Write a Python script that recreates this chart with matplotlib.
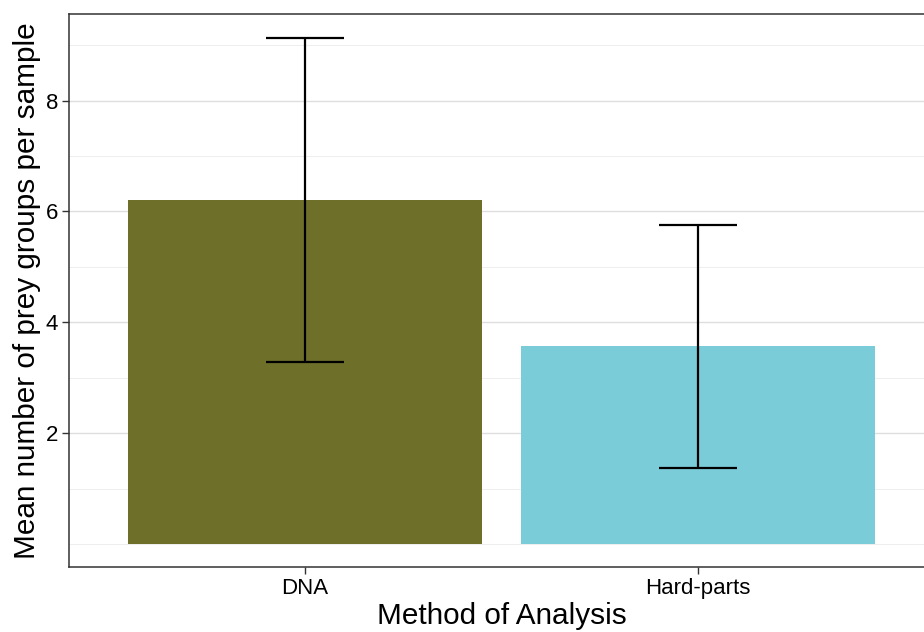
import matplotlib
matplotlib.use("Agg")
import matplotlib.pyplot as plt
import numpy as np

methods = ["DNA", "Hard-parts"]
means = [6.20, 3.57]
errors = [2.92, 2.19]
colors = ["#6E7029", "#7ACCD8"]
major_ticks = [2, 4, 6, 8]
minor_grid = [0, 1, 3, 5, 7, 9]

plt.rcParams['font.family'] = ['Liberation Sans', 'DejaVu Sans']

W, H = 924, 632
fig = plt.figure(figsize=(W / 100, H / 100), dpi=100)
ax = fig.add_axes([69 / W, 1 - 567 / H, (934 - 69) / W, (567 - 14) / H])

x = np.arange(1, len(methods) + 1)
for yv in minor_grid:
    ax.axhline(yv, color="#EBEBEB", lw=0.6, zorder=0)
for yv in major_ticks:
    ax.axhline(yv, color="#DEDEDE", lw=1.0, zorder=0)

ax.bar(x, means, width=0.9, color=colors, zorder=2)
for xi, m, e in zip(x, means, errors):
    ax.plot([xi, xi], [m - e, m + e], color="black", lw=1.6, zorder=3, solid_capstyle="butt")
    for yv in (m - e, m + e):
        ax.plot([xi - 0.1, xi + 0.1], [yv, yv], color="black", lw=1.6, zorder=3, solid_capstyle="butt")

ax.set_xlim(0.4, 2.6)
ax.set_ylim(-0.41, 9.56)
ax.set_xticks(x)
ax.set_xticklabels(methods)
ax.set_yticks(major_ticks)
ax.tick_params(axis="both", labelsize=16, color="#333333", length=5, width=1, labelcolor="black")
ax.tick_params(axis="y", pad=3)
ax.tick_params(axis="x", pad=3)
for s in ax.spines.values():
    s.set_color("#333333")
    s.set_linewidth(1.1)

ax.set_xlabel("Method of Analysis", fontsize=21.4, labelpad=2)
ax.set_ylabel("Mean number of prey groups per sample", fontsize=21.4, labelpad=3)

fig.savefig("out.png", dpi=100)
